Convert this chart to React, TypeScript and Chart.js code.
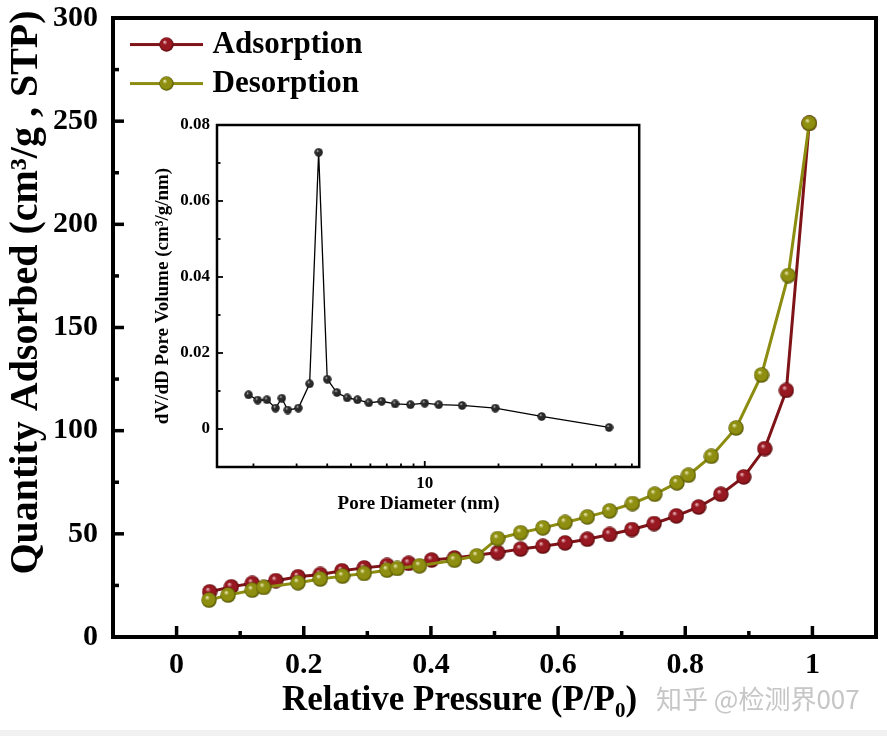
import React, { useEffect, useRef } from 'react';
import { Chart, registerables } from 'chart.js';

Chart.register(...registerables);

// ---------- data ----------
const ADS_P = [0.052, 0.086, 0.119, 0.156, 0.191, 0.226, 0.26, 0.295, 0.331, 0.365, 0.401, 0.437, 0.505, 0.541, 0.576, 0.611, 0.646, 0.681, 0.716, 0.751, 0.786, 0.821, 0.856, 0.892, 0.925, 0.959, 0.995];
const ADS_Q = [21.9, 24.3, 26.0, 27.3, 29.2, 30.3, 32.1, 33.5, 34.7, 35.7, 37.3, 38.3, 40.9, 42.6, 44.0, 45.6, 47.4, 49.7, 52.1, 55.0, 58.7, 63.0, 69.2, 77.6, 91.3, 119.5, 249];
const DES_P = [0.051, 0.081, 0.119, 0.137, 0.191, 0.226, 0.261, 0.295, 0.331, 0.347, 0.382, 0.437, 0.472, 0.505, 0.541, 0.576, 0.611, 0.646, 0.681, 0.717, 0.752, 0.787, 0.805, 0.841, 0.88, 0.92, 0.962, 0.995];
const DES_Q = [17.9, 20.3, 22.7, 24.0, 26.3, 28.1, 29.5, 30.8, 32.4, 33.2, 34.5, 37.2, 39.3, 47.7, 50.5, 52.9, 55.5, 58.2, 61.1, 64.7, 69.2, 74.7, 78.4, 87.6, 101.3, 127.0, 175.2, 249];

const PORE_D = [1.91, 2.08, 2.27, 2.46, 2.61, 2.76, 3.05, 3.39, 3.69, 4.0, 4.38, 4.82, 5.31, 5.91, 6.67, 7.57, 8.74, 10.0, 11.4, 14.2, 19.4, 30.0, 56.5];
const PORE_DV = [0.009, 0.0076, 0.0077, 0.0055, 0.0081, 0.005, 0.0055, 0.0119, 0.0728, 0.0131, 0.0096, 0.0082, 0.0077, 0.0069, 0.0073, 0.0066, 0.0064, 0.0068, 0.0064, 0.0062, 0.0055, 0.0033, 0.0004];

const SERIES_NAMES = ['Adsorption', 'Desorption'];

// ticks
const MAIN_X_TICKS = [0, 0.1, 0.2, 0.3, 0.4, 0.5, 0.6, 0.7, 0.8, 0.9, 1];
const MAIN_X_LABELED = [0, 0.2, 0.4, 0.6, 0.8, 1];
const MAIN_Y_TICKS = [0, 25, 50, 75, 100, 125, 150, 175, 200, 225, 250, 275, 300];
const MAIN_Y_LABELED = [0, 50, 100, 150, 200, 250, 300];
const INSET_X_TICKS = [2, 3, 4, 5, 6, 7, 8, 9, 10, 20, 30, 40, 50, 60, 70];
const INSET_X_LABELED = [10];
const INSET_Y_TICKS = [0, 0.01, 0.02, 0.03, 0.04, 0.05, 0.06, 0.07, 0.08];
const INSET_Y_LABELED = [0, 0.02, 0.04, 0.06, 0.08];

const SERIF = '"Liberation Serif", "Times New Roman", "DejaVu Serif", serif';

function sphere(d: number, hi: string, mid: string, lo: string) {
  const c = document.createElement('canvas');
  c.width = d;
  c.height = d;
  const g = c.getContext('2d')!;
  const r = d / 2;
  const grad = g.createRadialGradient(r * 0.72, r * 0.62, 0, r, r, r);
  grad.addColorStop(0, hi);
  grad.addColorStop(0.32, mid);
  grad.addColorStop(0.75, mid);
  grad.addColorStop(1, lo);
  g.fillStyle = grad;
  g.beginPath();
  g.arc(r, r, r - 0.3, 0, Math.PI * 2);
  g.fill();
  return c;
}

function legendImage(ball: HTMLCanvasElement, color: string) {
  const c = document.createElement('canvas');
  c.width = 88;
  c.height = 17;
  const g = c.getContext('2d')!;
  g.strokeStyle = color;
  g.lineWidth = 3;
  g.beginPath();
  g.moveTo(15, 8.5);
  g.lineTo(88, 8.5);
  g.stroke();
  g.drawImage(ball, 51.5 - ball.width / 2, 8.5 - ball.height / 2);
  return c;
}

function framePlugin(major: number, minor: number, tickW: number, frameW: number) {
  return {
    id: 'frameTicks',
    afterDraw(chart: any) {
      const { ctx, chartArea: a } = chart;
      ctx.save();
      ctx.strokeStyle = '#000';
      ctx.lineWidth = tickW;
      const sx = chart.scales.x;
      sx.ticks.forEach((t: any) => {
        const px = sx.getPixelForValue(t.value);
        const len = t.label !== '' ? major : minor;
        ctx.beginPath();
        ctx.moveTo(px, a.bottom);
        ctx.lineTo(px, a.bottom - len);
        ctx.stroke();
      });
      const sy = chart.scales.y;
      sy.ticks.forEach((t: any) => {
        const py = sy.getPixelForValue(t.value);
        const len = t.label !== '' ? major : minor;
        ctx.beginPath();
        ctx.moveTo(a.left, py);
        ctx.lineTo(a.left + len, py);
        ctx.stroke();
      });
      ctx.lineWidth = frameW;
      ctx.strokeRect(a.left, a.top, a.right - a.left, a.bottom - a.top);
      ctx.restore();
    },
  };
}

const fixX = (h: number) => (s: any) => {
  s.height = h;
  s.paddingLeft = 0;
  s.paddingRight = 0;
};
const fixY = (w: number) => (s: any) => {
  s.width = w;
  s.paddingTop = 0;
  s.paddingBottom = 0;
};

export default function App() {
  const mainRef = useRef<HTMLCanvasElement>(null);
  const insetRef = useRef<HTMLCanvasElement>(null);

  useEffect(() => {
    const redBall = sphere(16, '#f8d0d6', '#971820', '#470406');
    const greenBall = sphere(16, '#f8f8cc', '#8e8e10', '#474700');
    const blackBall = sphere(9, '#e8e8e8', '#2a2a2a', '#000000');
    const adsColor = '#7e1418';
    const desColor = '#8c8c10';
    const legendImgs = [
      legendImage(sphere(15, '#f8d0d6', '#971820', '#470406'), adsColor),
      legendImage(sphere(15, '#f8f8cc', '#8e8e10', '#474700'), desColor),
    ];

    const tickFont = { family: SERIF, weight: 'bold' as const, size: 30 };

    const main = new Chart(mainRef.current!, {
      type: 'line',
      data: {
        datasets: [
          {
            label: SERIES_NAMES[0],
            data: ADS_P.map((p, i) => ({ x: p, y: ADS_Q[i] })),
            borderColor: adsColor,
            backgroundColor: adsColor,
            borderWidth: 3,
            pointStyle: redBall as any,
            pointRadius: 8,
            order: 1,
          },
          {
            label: SERIES_NAMES[1],
            data: DES_P.map((p, i) => ({ x: p, y: DES_Q[i] })),
            borderColor: desColor,
            backgroundColor: desColor,
            borderWidth: 3,
            pointStyle: greenBall as any,
            pointRadius: 8,
            order: 0,
          },
        ],
      },
      options: {
        animation: false,
        responsive: false,
        layout: { padding: { top: 18, right: 8, left: 0, bottom: 0 } },
        plugins: {
          tooltip: { enabled: false },
          legend: {
            position: 'chartArea' as any,
            align: 'start',
            title: { display: true, text: '', font: { size: 0.01 }, padding: { top: 21, bottom: 0 } as any },
            labels: {
              usePointStyle: true,
              pointStyleWidth: 76,
              padding: 8,
              color: '#000',
              font: { family: SERIF, weight: 'bold', size: 31 },
              sort: (a: any, b: any) => a.datasetIndex - b.datasetIndex,
              generateLabels: (chart: any) => {
                const items = (Chart.defaults.plugins.legend.labels as any).generateLabels(chart);
                items.forEach((it: any) => {
                  it.pointStyle = legendImgs[it.datasetIndex];
                });
                return items;
              },
            },
          },
        },
        scales: {
          x: {
            type: 'linear',
            min: -0.1,
            max: 1.1,
            afterBuildTicks: (s: any) => {
              s.ticks = MAIN_X_TICKS.map((v) => ({ value: v }));
            },
            afterFit: fixX(99),
            grid: { display: false, drawTicks: false },
            border: { display: false },
            ticks: {
              autoSkip: false,
              maxRotation: 0,
              minRotation: 0,
              padding: 10,
              color: '#000',
              font: tickFont,
              callback: (v: any) => (MAIN_X_LABELED.includes(v) ? String(+Number(v).toFixed(1)) : ''),
            },
            title: {
              display: true,
              text: 'Relative Pressure (P/P\u2080)        ',
              color: '#000',
              font: { family: SERIF, weight: 'bold', size: 35 },
              padding: { top: 0, bottom: 14 },
            },
          },
          y: {
            min: 0,
            max: 300,
            afterBuildTicks: (s: any) => {
              s.ticks = MAIN_Y_TICKS.map((v) => ({ value: v }));
            },
            afterFit: fixY(113),
            grid: { display: false, drawTicks: false },
            border: { display: false },
            ticks: {
              autoSkip: false,
              padding: 15,
              color: '#000',
              font: tickFont,
              callback: (v: any) => (MAIN_Y_LABELED.includes(v) ? String(v) : ''),
            },
            title: {
              display: true,
              text: '       Quantity Adsorbed (cm\u00B3/g , STP)',
              color: '#000',
              font: { family: SERIF, weight: 'bold', size: 40 },
              padding: { top: 3, bottom: 0 },
            },
          },
        },
      },
      plugins: [framePlugin(11, 6, 3.5, 4)],
    });

    const insetTick = { family: SERIF, weight: 'bold' as const, size: 17 };
    const inset = new Chart(insetRef.current!, {
      type: 'line',
      data: {
        datasets: [
          {
            label: 'dV/dD',
            data: PORE_D.map((d, i) => ({ x: d, y: PORE_DV[i] })),
            borderColor: '#000',
            backgroundColor: '#000',
            borderWidth: 1.3,
            pointStyle: blackBall as any,
            pointRadius: 4.5,
          },
        ],
      },
      options: {
        animation: false,
        responsive: false,
        layout: { padding: { top: 15, right: 4, left: 0, bottom: 0 } },
        plugins: { legend: { display: false }, tooltip: { enabled: false } },
        scales: {
          x: {
            type: 'logarithmic',
            min: 1.42,
            max: 75,
            afterBuildTicks: (s: any) => {
              s.ticks = INSET_X_TICKS.map((v) => ({ value: v }));
            },
            afterFit: fixX(53),
            grid: { display: false, drawTicks: false },
            border: { display: false },
            ticks: {
              autoSkip: false,
              maxRotation: 0,
              minRotation: 0,
              padding: 6,
              color: '#000',
              font: insetTick,
              callback: (v: any) => (INSET_X_LABELED.includes(v) ? String(v) : ''),
            },
            title: {
              display: true,
              text: 'Pore Diameter (nm)    ',
              color: '#000',
              font: { family: SERIF, weight: 'bold', size: 19 },
              padding: { top: 0, bottom: 5 },
            },
          },
          y: {
            min: -0.01,
            max: 0.08,
            afterBuildTicks: (s: any) => {
              s.ticks = INSET_Y_TICKS.map((v) => ({ value: v }));
            },
            afterFit: fixY(72),
            grid: { display: false, drawTicks: false },
            border: { display: false },
            ticks: {
              autoSkip: false,
              padding: 7,
              color: '#000',
              font: insetTick,
              callback: (v: any) => (INSET_Y_LABELED.includes(v) ? (v === 0 ? '0' : Number(v).toFixed(2)) : ''),
            },
            title: {
              display: true,
              text: 'dV/dD Pore Volume (cm\u00B3/g/nm)',
              color: '#000',
              font: { family: SERIF, weight: 'bold', size: 19 },
              padding: { top: 7, bottom: 0 },
            },
          },
        },
      },
      plugins: [framePlugin(6, 3.5, 1.8, 2.5)],
    });

    return () => {
      main.destroy();
      inset.destroy();
    };
  }, []);

  return (
    <div style={{ position: 'absolute', left: 0, top: 0, width: 887, height: 736, background: '#fff', overflow: 'hidden' }}>
      <canvas ref={mainRef} width={887} height={736} style={{ position: 'absolute', left: 0, top: 0, width: 887, height: 736 }} />
      <canvas ref={insetRef} width={500} height={410} style={{ position: 'absolute', left: 145, top: 110, width: 500, height: 410 }} />
      <div
        style={{
          position: 'absolute',
          left: 656,
          top: 685,
          fontFamily: '"Noto Sans CJK SC", "Noto Sans", sans-serif',
          fontSize: 26,
          lineHeight: '26px',
          color: '#c6c6c6',
          whiteSpace: 'nowrap',
        }}
      >
        知乎 @检测界007
      </div>
      <div style={{ position: 'absolute', left: 0, top: 730, width: 887, height: 6, background: '#f1f1f1' }} />
    </div>
  );
}
